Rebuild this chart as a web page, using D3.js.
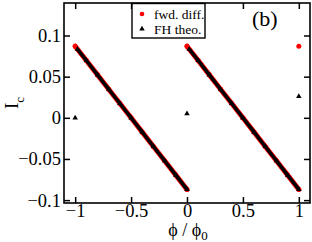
<!DOCTYPE html>
<html>
<head>
<meta charset="utf-8">
<style>
  body { margin: 0; background: #fff; }
  text { font-family: "Liberation Serif", "DejaVu Serif", serif; }
</style>
</head>
<body>
<svg width="312" height="242"></svg>
<script src="https://d3js.org/d3.v7.min.js"></script>
<script>

    // sawtooth branches
    var phiBranch1 = [-1, -0.9, -0.8, -0.7, -0.6, -0.5, -0.4, -0.3, -0.2, -0.1, 0];
    var phiBranch2 = [0, 0.1, 0.2, 0.3, 0.4, 0.5, 0.6, 0.7, 0.8, 0.9, 1];
    var fwdBranch1 = [0.087, 0.0696, 0.0522, 0.0348, 0.0174, 0, -0.0174, -0.0348, -0.0522, -0.0696, -0.087];
    var fwdBranch2 = [0.087, 0.0696, 0.0522, 0.0348, 0.0174, 0, -0.0174, -0.0348, -0.0522, -0.0696, -0.087];
    var fhPhi1 = [-0.98, -0.9, -0.8, -0.7, -0.6, -0.5, -0.4, -0.3, -0.2, -0.1, 0];
    var fhPhi2 = [0.02, 0.1, 0.2, 0.3, 0.4, 0.5, 0.6, 0.7, 0.8, 0.9, 1];
    var fhBranch1 = [0.0835, 0.0696, 0.0522, 0.0348, 0.0174, 0, -0.0174, -0.0348, -0.0522, -0.0696, -0.087];
    var fhBranch2 = [0.0835, 0.0696, 0.0522, 0.0348, 0.0174, 0, -0.0174, -0.0348, -0.0522, -0.0696, -0.087];

    // isolated points at the flux quanta
    var fwdLonePhi = [1];
    var fwdLone = [0.087];
    var fhLonePhi = [-1, 0, 1];
    var fhLone = [0, 0.005, 0.026];

    var xTicks = [-1, -0.5, 0, 0.5, 1];
    var yTicks = [-0.1, -0.05, 0, 0.05, 0.1];

    var svg = d3.select("svg"),
        margin = {top: 3, right: 2, bottom: 39, left: 64},
        width = +svg.attr("width") - margin.left - margin.right,
        height = +svg.attr("height") - margin.top - margin.bottom,
        g = svg.append("g").attr("transform", "translate(" + margin.left + "," + margin.top + ")");

    var x = d3.scaleLinear().domain([-1.1, 1.1]).range([0, width]);
    var y = d3.scaleLinear().domain([-0.1035, 0.1395]).range([height, 0]);

    function pts(px, py) { return px.map(function(p, i) { return [p, py[i]]; }); }

    var line = d3.line()
        .x(function(d) { return x(d[0]); })
        .y(function(d) { return y(d[1]); });

    var fwd = [pts(phiBranch1, fwdBranch1), pts(phiBranch2, fwdBranch2)];
    var fh = [pts(fhPhi1, fhBranch1), pts(fhPhi2, fhBranch2)];

    // red dots (dense, drawn as a thick trace plus markers)
    g.selectAll(".fwdline").data(fwd).enter().append("path")
        .attr("d", line).attr("fill", "none")
        .attr("stroke", "#ff0000").attr("stroke-width", 5).attr("stroke-linecap", "round");
    g.selectAll(".fwdpt").data(fwd.flat().concat(pts(fwdLonePhi, fwdLone))).enter().append("circle")
        .attr("cx", function(d) { return x(d[0]); })
        .attr("cy", function(d) { return y(d[1]); })
        .attr("r", 2.5).attr("fill", "#ff0000");

    // black triangles
    g.selectAll(".fhline").data(fh).enter().append("path")
        .attr("d", line).attr("fill", "none")
        .attr("stroke", "#000").attr("stroke-width", 3.4);
    var tri = d3.symbol().type(d3.symbolTriangle).size(13);
    g.selectAll(".fhpt").data(fh.flat().concat(pts(fhLonePhi, fhLone))).enter().append("path")
        .attr("d", tri)
        .attr("transform", function(d) { return "translate(" + x(d[0]) + "," + y(d[1]) + ")"; })
        .attr("fill", "#000");

    // axes with inward ticks on all four sides
    var tl = 6;
    function styleAxis(sel) {
        sel.select(".domain").remove();
        sel.selectAll("line").attr("stroke", "#000").attr("stroke-width", 1.5);
        sel.selectAll("text").attr("font-size", 18.5).attr("fill", "#000")
            .attr("font-family", "Liberation Serif, serif");
    }
    g.append("g").attr("transform", "translate(0," + height + ")")
        .call(d3.axisBottom(x).tickValues(xTicks).tickSize(-tl).tickPadding(1).tickFormat(d3.format("")))
        .call(styleAxis);
    g.append("g")
        .call(d3.axisTop(x).tickValues(xTicks).tickSize(-tl).tickFormat(""))
        .call(styleAxis);
    g.append("g")
        .call(d3.axisLeft(y).tickValues(yTicks).tickSize(-tl).tickPadding(3).tickFormat(d3.format("")))
        .call(styleAxis);
    g.append("g").attr("transform", "translate(" + width + ",0)")
        .call(d3.axisRight(y).tickValues(yTicks).tickSize(-tl).tickFormat(""))
        .call(styleAxis);

    g.append("rect").attr("width", width).attr("height", height)
        .attr("fill", "none").attr("stroke", "#000").attr("stroke-width", 1.6);

    // legend
    var lg = g.append("g").attr("transform", "translate(" + (132 - margin.left) + ",0)");
    lg.append("rect").attr("x", 0).attr("y", 0.5).attr("width", 73).attr("height", 34.5)
        .attr("fill", "#fff").attr("stroke", "#000").attr("stroke-width", 1.4);
    lg.append("circle").attr("cx", 10).attr("cy", 11).attr("r", 2.3).attr("fill", "#ff0000");
    lg.append("path").attr("d", tri).attr("transform", "translate(10,26)").attr("fill", "#000");
    lg.append("text").attr("x", 22).attr("y", 15.5).attr("font-size", 13.5).text("fwd. diff.");
    lg.append("text").attr("x", 22).attr("y", 30.5).attr("font-size", 13.5).text("FH theo.");

    g.append("text").attr("x", 252 - margin.left).attr("y", 26 - margin.top)
        .attr("font-size", 22).text("(b)");

    // axis titles
    var xt = svg.append("text").attr("x", 188).attr("y", 236)
        .attr("text-anchor", "middle").attr("font-size", 18);
    xt.append("tspan").text("\u03d5 / \u03d5");
    xt.append("tspan").attr("font-size", 13).attr("dy", 4).text("0");

    var yt = svg.append("text").attr("transform", "translate(17.5,103) rotate(-90)")
        .attr("text-anchor", "middle").attr("font-size", 19);
    yt.append("tspan").text("I");
    yt.append("tspan").attr("font-size", 13).attr("dy", 6).text("c");

</script>
</body>
</html>
